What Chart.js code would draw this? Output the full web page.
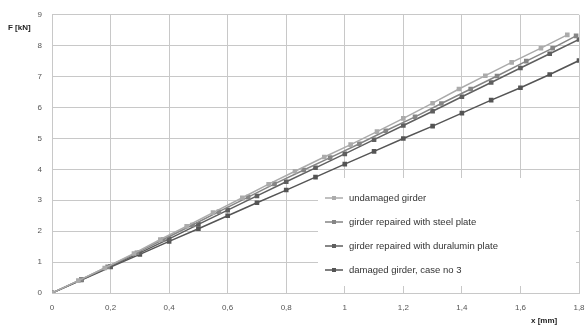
<!DOCTYPE html>
<html>
<head>
<meta charset="utf-8">
<script src="https://cdn.jsdelivr.net/npm/chart.js@4"></script>
<style>
  html, body { margin: 0; padding: 0; background: #fff; }
  #wrap { width: 585px; height: 329px; position: relative; }
</style>
</head>
<body>
<div id="wrap"><canvas id="myChart"></canvas></div>
<script>
// series values (x [mm], F [kN])
var undamagedX = [0, 0.09, 0.18, 0.28, 0.37, 0.46, 0.55, 0.65, 0.74, 0.83, 0.93, 1.02, 1.11, 1.2, 1.3, 1.39, 1.48, 1.57, 1.67, 1.76];
var undamagedF = [0, 0.4, 0.81, 1.28, 1.73, 2.16, 2.6, 3.08, 3.52, 3.94, 4.4, 4.8, 5.22, 5.65, 6.14, 6.6, 7.03, 7.46, 7.92, 8.35];

var steelX = [0, 0.1, 0.19, 0.29, 0.38, 0.48, 0.57, 0.67, 0.76, 0.86, 0.95, 1.05, 1.14, 1.24, 1.33, 1.43, 1.52, 1.62, 1.71, 1.79];
var steelF = [0, 0.44, 0.85, 1.3, 1.73, 2.2, 2.63, 3.1, 3.53, 3.98, 4.38, 4.83, 5.25, 5.7, 6.13, 6.6, 7.02, 7.5, 7.92, 8.32];

var duralX = [0, 0.1, 0.2, 0.3, 0.4, 0.5, 0.6, 0.7, 0.8, 0.9, 1.0, 1.1, 1.2, 1.3, 1.4, 1.5, 1.6, 1.7, 1.8];
var duralF = [0, 0.43, 0.86, 1.3, 1.75, 2.22, 2.68, 3.14, 3.6, 4.05, 4.5, 4.96, 5.42, 5.88, 6.35, 6.81, 7.28, 7.74, 8.2];

var damagedX = [0, 0.1, 0.2, 0.3, 0.4, 0.5, 0.6, 0.7, 0.8, 0.9, 1.0, 1.1, 1.2, 1.3, 1.4, 1.5, 1.6, 1.7, 1.8];
var damagedF = [0, 0.42, 0.84, 1.25, 1.67, 2.08, 2.5, 2.92, 3.33, 3.75, 4.17, 4.58, 5.0, 5.4, 5.82, 6.24, 6.64, 7.07, 7.52];

var seriesNames = ["undamaged girder", "girder repaired with steel plate",
                   "girder repaired with duralumin plate", "damaged girder, case no 3"];
var xTicks = [0, 0.2, 0.4, 0.6, 0.8, 1, 1.2, 1.4, 1.6, 1.8];
var yTicks = [0, 1, 2, 3, 4, 5, 6, 7, 8, 9];
var xTitle = "x [mm]";
var yTitle = "F [kN]";

function pts(xs, ys) {
  return xs.map(function (v, i) { return { x: v, y: ys[i] }; });
}

function fmt(v) {
  return String(Math.round(v * 10) / 10).replace(".", ",");
}

// legend box inside the plot + axis titles
var extras = {
  id: "extras",
  afterDraw: function (chart) {
    var ctx = chart.ctx;
    ctx.save();
    // legend background
    ctx.fillStyle = "#fff";
    ctx.fillRect(318, 178, 258, 108);
    ctx.font = "9.5px 'Liberation Sans', Arial, sans-serif";
    ctx.textBaseline = "middle";
    chart.data.datasets.forEach(function (ds, i) {
      var y = 198 + i * 24;
      ctx.strokeStyle = ds.borderColor;
      ctx.lineWidth = 1.5;
      ctx.beginPath();
      ctx.moveTo(325, y);
      ctx.lineTo(343, y);
      ctx.stroke();
      ctx.fillStyle = ds.pointBackgroundColor;
      ctx.fillRect(332, y - 2, 4, 4);
      ctx.fillStyle = "#333";
      ctx.fillText(ds.label, 349, y);
    });
    // axis titles
    ctx.font = "bold 8px 'Liberation Sans', Arial, sans-serif";
    ctx.fillStyle = "#222";
    ctx.textAlign = "left";
    ctx.fillText(yTitle, 8, 28);
    ctx.fillText(xTitle, 531, 321);
    ctx.restore();
  }
};

function mkSet(label, data, color) {
  return {
    label: label,
    data: data,
    borderColor: color,
    backgroundColor: color,
    pointBackgroundColor: color,
    pointBorderColor: color,
    pointStyle: "rect",
    pointRadius: 2.2,
    borderWidth: 1.5,
    tension: 0,
    fill: false
  };
}

new Chart(document.getElementById("myChart"), {
  type: "scatter",
  data: {
    datasets: [
      mkSet(seriesNames[0], pts(undamagedX, undamagedF), "#ababab"),
      mkSet(seriesNames[1], pts(steelX, steelF), "#858585"),
      mkSet(seriesNames[2], pts(duralX, duralF), "#5f5f5f"),
      mkSet(seriesNames[3], pts(damagedX, damagedF), "#555555")
    ].map(function (d) { d.showLine = true; return d; })
  },
  options: {
    responsive: true,
    maintainAspectRatio: false,
    animation: false,
    layout: { padding: { top: 13, right: 6, left: 0, bottom: 0 } },
    plugins: { legend: { display: false }, tooltip: { enabled: false } },
    scales: {
      x: {
        type: "linear",
        min: 0, max: 1.8,
        afterBuildTicks: function (s) { s.ticks = xTicks.map(function (v) { return { value: v }; }); },
        afterFit: function (s) { s.height = 36; s.paddingLeft = 0; s.paddingRight = 0; },
        grid: { color: "#c8c8c8", lineWidth: 1, drawTicks: false },
        border: { color: "#c8c8c8" },
        ticks: {
          padding: 10,
          maxRotation: 0,
          color: "#555",
          font: { size: 8, family: "'Liberation Sans', Arial, sans-serif" },
          callback: function (v) { return fmt(v); }
        }
      },
      y: {
        min: 0, max: 9,
        afterBuildTicks: function (s) { s.ticks = yTicks.map(function (v) { return { value: v }; }); },
        afterFit: function (s) { s.width = 52; },
        grid: { color: "#c8c8c8", lineWidth: 1, drawTicks: false },
        border: { color: "#c8c8c8" },
        ticks: {
          padding: 10,
          color: "#555",
          font: { size: 8, family: "'Liberation Sans', Arial, sans-serif" },
          callback: function (v) { return String(v); }
        }
      }
    }
  },
  plugins: [extras]
});
</script>
</body>
</html>
